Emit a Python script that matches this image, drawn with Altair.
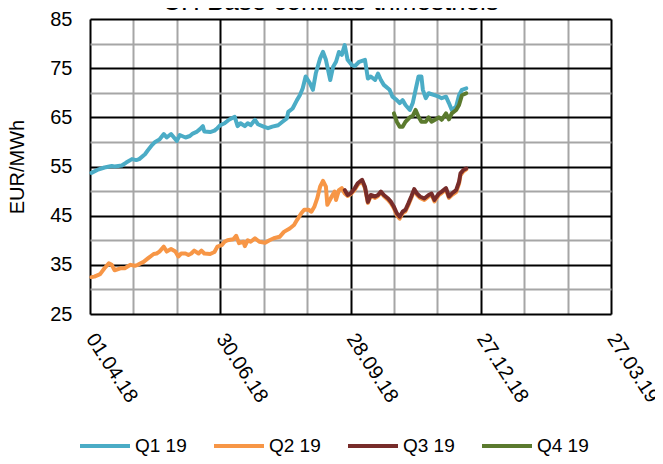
import altair as alt
import pandas as pd

# ---- data -------------------------------------------------------------
q1_dates = ["2018-04-02","2018-04-06","2018-04-11","2018-04-16","2018-04-18","2018-04-23","2018-04-26","2018-04-30",
            "2018-05-03","2018-05-05","2018-05-09","2018-05-11","2018-05-14","2018-05-16","2018-05-19","2018-05-22",
            "2018-05-24","2018-05-27","2018-05-31","2018-06-02","2018-06-06","2018-06-09","2018-06-11","2018-06-14",
            "2018-06-16","2018-06-18","2018-06-19","2018-06-23","2018-06-26","2018-06-28","2018-06-30","2018-07-03",
            "2018-07-06","2018-07-10","2018-07-12","2018-07-14","2018-07-17","2018-07-19","2018-07-21","2018-07-24",
            "2018-07-26","2018-07-30","2018-08-02","2018-08-05","2018-08-09","2018-08-12","2018-08-15","2018-08-16",
            "2018-08-19","2018-08-22","2018-08-24","2018-08-26","2018-08-28","2018-08-31","2018-09-02","2018-09-04",
            "2018-09-07","2018-09-09","2018-09-11","2018-09-14","2018-09-16","2018-09-18","2018-09-20","2018-09-22",
            "2018-09-24","2018-09-26","2018-09-29","2018-10-01","2018-10-04","2018-10-08","2018-10-10","2018-10-12",
            "2018-10-15","2018-10-17","2018-10-19","2018-10-21","2018-10-25","2018-10-27","2018-10-30","2018-11-01",
            "2018-11-03","2018-11-05","2018-11-08","2018-11-10","2018-11-12","2018-11-14","2018-11-16","2018-11-17",
            "2018-11-19","2018-11-21","2018-11-25","2018-11-28","2018-11-30","2018-12-03","2018-12-05","2018-12-07",
            "2018-12-10","2018-12-12","2018-12-14","2018-12-17"]
q1_values = [53.7,54.3,54.8,55.1,55.0,55.2,55.8,56.5,
             56.3,56.5,57.5,58.3,59.4,60.0,60.5,61.6,
             60.9,61.6,60.2,61.4,60.9,61.2,61.7,62.1,
             62.6,63.2,62.1,62.0,62.3,62.8,63.4,63.8,
             64.5,65.1,63.2,63.8,63.2,63.8,63.4,64.5,
             63.6,63.1,62.8,63.1,63.4,64.1,64.8,66.1,
             66.8,68.5,69.5,70.9,73.3,71.9,70.6,73.9,
             77.0,78.3,76.7,72.6,75.3,76.3,78.3,77.7,
             79.7,76.7,75.6,75.4,76.3,76.7,72.9,73.3,
             72.6,73.9,72.6,71.6,70.6,69.2,68.5,67.9,
             68.5,67.5,66.5,67.9,70.6,73.3,73.3,70.6,
             68.9,69.9,69.5,69.2,68.9,69.2,67.9,66.5,
             67.2,69.5,70.6,70.9]

q2_dates = ["2018-04-02","2018-04-04","2018-04-08","2018-04-11","2018-04-14","2018-04-16","2018-04-18","2018-04-22",
            "2018-04-25","2018-04-29","2018-05-02","2018-05-04","2018-05-08","2018-05-11","2018-05-15","2018-05-17",
            "2018-05-19","2018-05-22","2018-05-24","2018-05-27","2018-05-30","2018-06-01","2018-06-03","2018-06-06",
            "2018-06-08","2018-06-10","2018-06-12","2018-06-15","2018-06-17","2018-06-19","2018-06-23","2018-06-26",
            "2018-06-28","2018-07-01","2018-07-03","2018-07-05","2018-07-09","2018-07-11","2018-07-13","2018-07-16",
            "2018-07-17","2018-07-19","2018-07-21","2018-07-24","2018-07-27","2018-07-31","2018-08-03","2018-08-06",
            "2018-08-10","2018-08-13","2018-08-17","2018-08-20","2018-08-22","2018-08-25","2018-08-27","2018-08-30",
            "2018-09-01","2018-09-03","2018-09-05","2018-09-07","2018-09-09","2018-09-11","2018-09-12","2018-09-15",
            "2018-09-17","2018-09-18","2018-09-20","2018-09-22","2018-09-24","2018-09-26","2018-09-28","2018-10-01",
            "2018-10-03","2018-10-06","2018-10-08","2018-10-10","2018-10-12","2018-10-15","2018-10-17","2018-10-19",
            "2018-10-21","2018-10-24","2018-10-26","2018-10-28","2018-10-30","2018-11-01","2018-11-03","2018-11-05",
            "2018-11-07","2018-11-09","2018-11-11","2018-11-13","2018-11-15","2018-11-18","2018-11-21","2018-11-23",
            "2018-11-25","2018-11-28","2018-11-30","2018-12-03","2018-12-05","2018-12-07","2018-12-10","2018-12-12",
            "2018-12-13","2018-12-15","2018-12-17"]
q2_values = [32.5,32.6,33.1,34.3,35.3,35.0,33.9,34.3,
             34.3,35.0,34.8,35.0,35.6,36.3,37.2,37.3,
             37.7,38.7,37.7,38.2,37.7,36.7,37.3,37.3,
             37.0,37.3,37.9,37.3,37.9,37.3,37.2,37.6,
             38.7,39.0,39.7,40.0,40.2,40.9,39.4,39.7,
             38.8,40.0,39.7,40.4,39.7,39.5,40.0,40.4,
             40.7,41.7,42.4,43.1,44.1,45.5,46.2,46.2,
             45.8,46.8,48.5,50.9,52.1,50.9,47.2,48.9,
             49.9,48.2,50.2,50.6,49.5,49.0,49.3,50.3,
             51.3,52.0,50.6,47.6,49.0,48.6,49.0,49.7,
             49.0,48.2,47.5,46.5,45.1,44.4,45.5,45.9,
             47.2,48.6,50.1,49.2,48.6,48.2,48.9,49.2,
             47.9,49.2,49.6,50.3,48.6,49.2,49.8,51.5,
             53.2,54.0,54.4]

q3_dates = ["2018-09-24","2018-09-26","2018-09-28","2018-10-01","2018-10-03","2018-10-06","2018-10-08","2018-10-10",
            "2018-10-12","2018-10-15","2018-10-17","2018-10-19","2018-10-21","2018-10-24","2018-10-26","2018-10-28",
            "2018-10-30","2018-11-01","2018-11-03","2018-11-05","2018-11-07","2018-11-09","2018-11-11","2018-11-13",
            "2018-11-15","2018-11-18","2018-11-21","2018-11-23","2018-11-25","2018-11-28","2018-11-30","2018-12-03",
            "2018-12-05","2018-12-07","2018-12-10","2018-12-12","2018-12-13","2018-12-15","2018-12-17"]
q3_values = [50.2,49.2,49.5,50.6,51.6,52.3,50.9,47.8,
             49.2,48.9,49.2,49.9,49.2,48.5,47.8,46.8,
             45.5,44.8,45.8,46.2,47.5,48.9,50.4,49.5,
             48.9,48.5,49.2,49.5,48.2,49.5,49.9,50.6,
             48.9,49.5,50.2,51.9,53.6,54.3,54.6]

q4_dates = ["2018-10-28","2018-10-30","2018-11-01","2018-11-03","2018-11-05","2018-11-08","2018-11-10","2018-11-12",
            "2018-11-14","2018-11-16","2018-11-19","2018-11-21","2018-11-23","2018-11-26","2018-11-28","2018-11-30",
            "2018-12-03","2018-12-05","2018-12-07","2018-12-10","2018-12-12","2018-12-14","2018-12-17"]
q4_values = [65.8,64.1,63.1,63.1,64.1,65.0,65.3,66.5,
             65.1,64.1,64.1,65.0,64.1,64.6,65.0,64.5,
             65.8,64.6,65.8,66.5,67.5,69.5,69.9]

series_names = ["Q1 19", "Q2 19", "Q3 19", "Q4 19"]
series_colors = ["#4BACC6", "#F79646", "#772C2A", "#5B7A2E"]

x_start = "2018-04-01"
x_end = "2019-03-27"
y_min, y_max = 25, 85

# ---- table --------------------------------------------------------------
frames = []
for name, d, v in zip(series_names, [q1_dates, q2_dates, q3_dates, q4_dates],
                      [q1_values, q2_values, q3_values, q4_values]):
    frames.append(pd.DataFrame({"date": d, "value": v, "series": name}))
df = pd.concat(frames, ignore_index=True)

DAY = 86400000
t0 = int(pd.Timestamp(x_start, tz="UTC").value // 10**6)
x_ticks = [t0 + k * 30 * DAY for k in range(13)]
y_ticks = list(range(y_min, y_max + 1, 5))

FONT = "Liberation Sans"

x_axis = alt.Axis(
    values=x_ticks,
    labelExpr=f"(datum.value - {t0}) % {90*DAY} === 0 ? utcFormat(datum.value, '%d.%m.%y') : ''",
    labelAngle=57, labelAlign="left", labelBaseline="middle",
    labelPadding=21, labelFontSize=20, labelFont=FONT, labelColor="black",
    ticks=False, tickSize=0, domain=False, labelOverlap=False, labelBound=False, labelFlush=False,
    grid=True, gridWidth=2,
    gridColor={"condition": {"test": f"(datum.value - {t0}) % {90*DAY} === 0", "value": "black"},
               "value": "#A6A6A6"},
    title=None,
)
y_axis = alt.Axis(
    values=y_ticks,
    labelExpr=f"(datum.value - {y_min}) % 10 === 0 ? datum.label : ''",
    labelPadding=18, labelFontSize=20, labelFont=FONT, labelColor="black",
    ticks=False, tickSize=0, domain=False, labelOverlap=False,
    grid=True, gridWidth=2,
    gridColor={"condition": {"test": f"(datum.value - {y_min}) % 10 === 0", "value": "black"},
               "value": "#A6A6A6"},
    title="EUR/MWh", titleFont=FONT, titleFontSize=20, titleFontWeight="normal",
    titleColor="black", titlePadding=22,
)

chart = alt.Chart(df).mark_line(strokeWidth=4, strokeJoin="round", strokeCap="round").encode(
    x=alt.X("date:T", scale=alt.Scale(type="utc", domain=[x_start, x_end], nice=False), axis=x_axis),
    y=alt.Y("value:Q", scale=alt.Scale(domain=[y_min, y_max], nice=False, zero=False), axis=y_axis),
    color=alt.Color("series:N",
                    scale=alt.Scale(domain=series_names, range=series_colors),
                    legend=alt.Legend(
                        orient="none", legendX=-12, legendY=400, direction="horizontal", columns=4,
                        title=None, symbolType="stroke", symbolSize=2500, symbolStrokeWidth=4,
                        labelFont=FONT, labelFontSize=19, labelColor="black", labelOffset=3,
                        columnPadding=19,
                    )),
).properties(
    width=521, height=295,
    title=alt.TitleParams("CH Base contrats trimestriels", font=FONT, fontSize=26,
                          fontWeight="normal", color="black", anchor="middle", offset=-6, dx=-20),
    autosize=alt.AutoSizeParams(type="none"),
    padding={"left": 82, "top": 11, "right": 44, "bottom": 142},
).configure_view(stroke="black", strokeWidth=2).configure(background="white")

chart.save("out.html", embed_options={"renderer": "svg", "actions": False})
